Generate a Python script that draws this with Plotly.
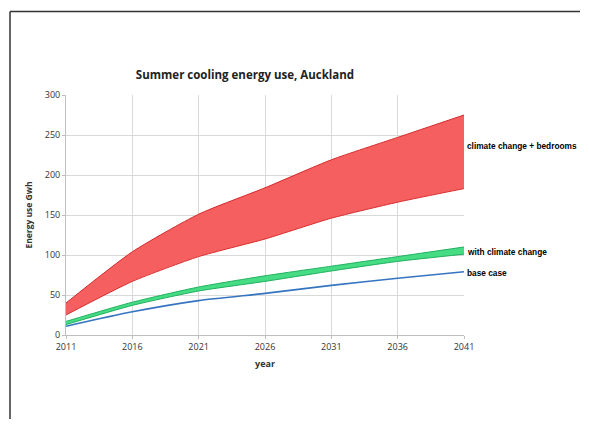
import plotly.graph_objects as go

years = [2011, 2016, 2021, 2026, 2031, 2036, 2041]
bedrooms_high = [40, 104, 151, 184, 219, 247, 275]
bedrooms_low = [25, 67, 98, 120, 146, 166, 183]
climate_high = [17, 41, 60, 74, 86, 98, 110]
climate_low = [13, 37, 55, 67, 80, 92, 101]
base_case = [11, 29, 43, 52, 62, 71, 79]
x_ticks = [2011, 2016, 2021, 2026, 2031, 2036, 2041]
y_ticks = [0, 50, 100, 150, 200, 250, 300]

OFF = 8  # page offset of the rendered figure
W, H = 589 - 2 * OFF, 428 - 2 * OFF
L, R, T, B = 66 - OFF, 464 - OFF, 95 - OFF, 335 - OFF

fig = go.Figure()
fig.add_trace(go.Scatter(x=years, y=bedrooms_low, mode="lines",
                         line=dict(color="#d93030", width=1, shape="spline", smoothing=0.6),
                         showlegend=False, hoverinfo="skip"))
fig.add_trace(go.Scatter(x=years, y=bedrooms_high, mode="lines", fill="tonexty",
                         fillcolor="#f65f5f",
                         line=dict(color="#d22a2a", width=1, shape="spline", smoothing=0.6),
                         showlegend=False))
fig.add_trace(go.Scatter(x=years, y=climate_low, mode="lines",
                         line=dict(color="#22b060", width=1, shape="spline", smoothing=0.6),
                         showlegend=False, hoverinfo="skip"))
fig.add_trace(go.Scatter(x=years, y=climate_high, mode="lines", fill="tonexty",
                         fillcolor="#45dc84",
                         line=dict(color="#22b060", width=1, shape="spline", smoothing=0.6),
                         showlegend=False))
fig.add_trace(go.Scatter(x=years, y=base_case, mode="lines",
                         line=dict(color="#3574c0", width=1.6, shape="spline", smoothing=0.6),
                         showlegend=False))

label_font = dict(family="Arial, Liberation Sans", size=8.3, color="#000000")
labels = [("<b>climate change + bedrooms</b>", 236),
          ("<b>with climate change</b>", 104),
          ("<b>base case</b>", 78)]
for text, yv in labels:
    fig.add_annotation(x=2041, y=yv, xref="x", yref="y", text=text, showarrow=False,
                       xanchor="left", yanchor="middle", xshift=1, font=label_font)

pw, ph = R - L, B - T
def px(v):
    return (v - OFF - L) / pw
def py(v):
    return (B - (v - OFF)) / ph

fig.add_shape(type="line", xref="paper", yref="paper", x0=px(10), x1=px(580), y0=py(11.5), y1=py(11.5),
              line=dict(color="#333333", width=1.5))
fig.add_shape(type="line", xref="paper", yref="paper", x0=px(10), x1=px(10), y0=py(11.5), y1=py(419),
              line=dict(color="#333333", width=1.5))

fig.update_layout(
    width=W, height=H,
    margin=dict(l=L, r=W - R, t=T, b=H - B, autoexpand=False),
    paper_bgcolor="white", plot_bgcolor="white",
    title=dict(text="<b>Summer cooling energy use, Auckland</b>", x=(245 - OFF) / W, xanchor="center",
               y=1 - (75 - OFF) / H, yanchor="middle",
               font=dict(family="Open Sans, Arial", size=11.5, color="#222222")),
    font=dict(family="Open Sans, Arial", size=9, color="#333333"),
)
fig.update_xaxes(range=[2011, 2041], tickvals=x_ticks, ticktext=[str(v) for v in x_ticks],
                 showgrid=True, gridcolor="#d9d9d9", gridwidth=1,
                 showline=True, linecolor="#bfbfbf", ticks="outside", ticklen=3, tickcolor="#bfbfbf",
                 zeroline=False, automargin=False,
                 title=dict(text="<b>year</b>", font=dict(size=9, color="#333333"), standoff=8),
                 tickfont=dict(size=9, color="#333333"))
fig.update_yaxes(range=[0, 300], tickvals=y_ticks, showgrid=True, gridcolor="#d9d9d9", gridwidth=1,
                 showline=True, linecolor="#bfbfbf", ticks="outside", ticklen=3, tickcolor="#bfbfbf",
                 zeroline=False, automargin=False,
                 title=dict(text="<b>Energy use Gwh</b>", font=dict(size=8.5, color="#333333"), standoff=10),
                 tickfont=dict(size=9, color="#333333"))

fig.write_html("out.html", config={"displayModeBar": False})
